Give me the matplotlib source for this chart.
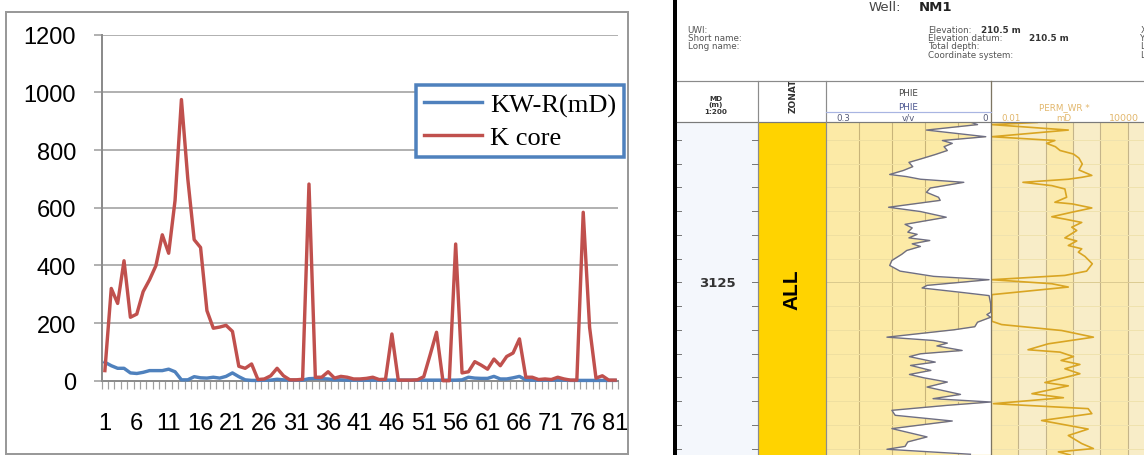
import matplotlib
matplotlib.use('Agg')
import matplotlib.pyplot as plt
import numpy as np
from matplotlib.patches import Rectangle

# ---------------- data: left chart ----------------
categories = list(range(1, 82))
x_tick_labels = [str(v) for v in range(1, 82, 5)]
kw_r = [64, 52, 43, 43, 27, 25, 29, 35, 35, 35, 40, 31, 3, 3, 14, 10, 9, 12, 9, 15,
        27, 14, 3, 1, 1, 2, 2, 5, 3, 2, 2, 2, 7, 8, 7, 6, 3, 3, 2, 2,
        2, 2, 2, 2, 2, 2, 2, 2, 2, 2, 2, 2, 2, 2, 2, 2, 3, 12, 9, 8,
        8, 15, 6, 6, 10, 15, 3, 2, 2, 2, 2, 2, 2, 1, 1, 1, 1, 1, 1, 1, 1]
k_core = [35, 320, 268, 416, 220, 231, 309, 350, 399, 506, 442, 625, 975, 700, 489, 462, 243, 182, 186, 192,
          171, 50, 43, 58, 4, 6, 17, 43, 17, 3, 3, 5, 682, 12, 12, 31, 9, 15, 12, 6,
          6, 8, 12, 4, 5, 162, 2, 2, 2, 3, 14, 90, 168, 0, 0, 474, 27, 31, 66, 54,
          40, 75, 52, 84, 96, 145, 12, 12, 4, 6, 4, 12, 6, 2, 2, 584, 185, 9, 17, 2, 2]
y_ticks = [0, 200, 400, 600, 800, 1000, 1200]
series_names = ['KW-R(mD)', 'K core']

# ---------------- data: well log ----------------
phie_depth = [3118.27, 3118.36, 3118.59, 3118.87, 3119.03, 3119.15, 3119.29, 3119.45, 3119.62, 3119.81,
              3119.95, 3120.13, 3120.29, 3120.46, 3120.55, 3120.66, 3120.79, 3121.03, 3121.21, 3121.42,
              3121.55, 3121.84, 3122.02, 3122.26, 3122.56, 3122.71, 3122.89, 3122.98, 3123.13, 3123.24,
              3123.38, 3123.49, 3123.66, 3123.82, 3124.08, 3124.29, 3124.53, 3124.75, 3124.89, 3125.13,
              3125.24, 3125.42, 3125.56, 3125.91, 3126.26, 3126.36, 3126.47, 3126.68, 3126.87, 3127.00,
              3127.31, 3127.45, 3127.56, 3127.68, 3127.87, 3128.01, 3128.13, 3128.36, 3128.50, 3128.71,
              3128.88, 3129.02, 3129.20, 3129.41, 3129.72, 3129.90, 3130.04, 3130.18, 3130.39, 3130.60,
              3130.84, 3131.16, 3131.51, 3131.72, 3131.91, 3132.03, 3132.14, 3132.24]
phie_vals = [0.035, 0.024, 0.117, 0.009, 0.088, 0.070, 0.085, 0.079, 0.101, 0.128,
             0.149, 0.142, 0.159, 0.184, 0.153, 0.128, 0.049, 0.110, 0.117, 0.095,
             0.092, 0.186, 0.128, 0.081, 0.156, 0.143, 0.151, 0.134, 0.149, 0.111,
             0.143, 0.128, 0.153, 0.162, 0.180, 0.184, 0.165, 0.104, 0.003, 0.116,
             0.125, 0.055, 0.003, 0.0, 0.0, 0.007, 0.0, 0.024, 0.029, 0.067,
             0.189, 0.104, 0.079, 0.098, 0.052, 0.128, 0.148, 0.101, 0.146, 0.109,
             0.148, 0.122, 0.079, 0.116, 0.055, 0.105, 0.0, 0.079, 0.180, 0.174,
             0.070, 0.180, 0.116, 0.151, 0.156, 0.189, 0.110, 0.037]
perm_depth = [3118.27, 3118.36, 3118.59, 3118.87, 3119.03, 3119.15, 3119.29, 3119.45, 3119.60, 3119.77,
              3120.02, 3120.27, 3120.50, 3120.58, 3120.66, 3120.79, 3120.93, 3121.07, 3121.42, 3121.63,
              3121.70, 3121.87, 3122.05, 3122.24, 3122.34, 3122.48, 3122.68, 3122.82, 3123.13, 3123.26,
              3123.45, 3123.59, 3123.73, 3123.91, 3124.22, 3124.53, 3124.71, 3124.89, 3125.06, 3125.20,
              3125.52, 3126.64, 3126.78, 3127.03, 3127.31, 3127.59, 3127.84, 3127.94, 3128.13, 3128.29,
              3128.46, 3128.64, 3128.85, 3129.22, 3129.36, 3129.69, 3129.86, 3130.11, 3130.32, 3130.53,
              3130.82, 3131.18, 3131.45, 3131.79, 3132.00, 3132.14, 3132.27]
perm_md = [0.5, 0.011, 6.8, 0.011, 2.2, 1.1, 2.3, 3.4, 10.5, 16.6,
           22, 16.6, 49, 21, 6.8, 0.15, 1.7, 5.1, 5.9, 2.2,
           9.5, 49, 9.1, 1.7, 5.1, 21, 9.1, 13.8, 5.1, 13.8,
           6.8, 21, 15.8, 27.5, 51, 31.6, 5.1, 0.011, 1.7, 6.8,
           0.011, 0.011, 0.025, 3.9, 56, 1.26, 0.23, 3.4, 10.5, 3.7,
           18, 5.1, 18, 0.95, 6.8, 0.32, 4.5, 0.0126, 36, 49,
           0.72, 36, 6.8, 21, 56, 2.95, 7.9]
md_ticks = list(range(3119, 3133))
md_label = 3125
zone_name = 'ALL'

# ---------------- figure ----------------
W, H = 1144, 456
fig = plt.figure(figsize=(W / 100, H / 100), dpi=100)
PX = 0.72  # points per pixel


def axpx(x0, y0, x1, y1, **kw):
    return fig.add_axes([x0 / W, 1 - y1 / H, (x1 - x0) / W, (y1 - y0) / H], **kw)


bg = axpx(0, 0, W, H, zorder=0)
bg.set_xlim(0, W); bg.set_ylim(H, 0); bg.axis('off')

# chart border
bg.add_patch(Rectangle((6, 13), 622, 442, fill=False, edgecolor='#999999', lw=2 * PX))

# ---------------- left chart ----------------
ax = axpx(101.7, 35.7, 618.3, 381.7, zorder=2)
ax.set_facecolor('none')
ax.set_xlim(0.5, 81.5)
ax.set_ylim(0, 1200)
ax.set_yticks(y_ticks)
ax.yaxis.grid(True, color='#A0A0A0', lw=1.6 * PX)
ax.set_axisbelow(True)
l1, = ax.plot(categories, kw_r, color='#4F81BD', lw=3.4 * PX, clip_on=False, zorder=3)
l2, = ax.plot(categories, k_core, color='#C0504D', lw=3.4 * PX, clip_on=False, zorder=4)
for s in ['top', 'right']:
    ax.spines[s].set_visible(False)
for s in ['left', 'bottom']:
    ax.spines[s].set_color('#8C8C8C')
    ax.spines[s].set_linewidth(2 * PX)
ax.tick_params(axis='y', length=8.5 * PX, width=1.6 * PX, color='#A0A0A0', pad=17 * PX,
               labelsize=17)
ax.set_xticks(list(range(1, 82, 5)))
ax.set_xticklabels(x_tick_labels)
ax.set_xticks(np.arange(0.5, 82, 1), minor=True)
ax.tick_params(axis='x', which='major', length=0, pad=31 * PX, labelsize=17)
ax.tick_params(axis='x', which='minor', length=8 * PX, width=1.2 * PX, color='#A0A0A0')
for t in ax.get_xticklabels() + ax.get_yticklabels():
    t.set_fontfamily('Liberation Sans')

leg = fig.legend([l1, l2], series_names, loc='upper left',
                 bbox_to_anchor=(416 / W, 1 - 86 / H), bbox_transform=fig.transFigure,
                 prop={'family': 'Liberation Serif', 'size': 19}, frameon=True, fancybox=False,
                 framealpha=1, borderaxespad=0, borderpad=0.3, labelspacing=0.33,
                 handlelength=2.2, handletextpad=0.3)
leg.get_frame().set_edgecolor('#4F81BD')
leg.get_frame().set_linewidth(3.5 * PX)
for ln in leg.get_lines():
    ln.set_linewidth(3.4 * PX)

# ---------------- right panel: well log ----------------
TOP, BOT = 123.3, 456
PXM = 23.75
d_top = md_label - (283.3 - TOP) / PXM
d_bot = md_label + (BOT - 283.3) / PXM

bg.add_patch(Rectangle((677, TOP), 81, BOT - TOP, color='#F4F7FC', lw=0))
bg.add_patch(Rectangle((758, TOP), 68, BOT - TOP, color='#FFD300', lw=0))

# PHIE track
ap = axpx(826, TOP, 990.7, BOT, zorder=1)
ap.set_facecolor('#FCEAA6')
ap.set_xlim(0.3, 0)
ap.set_ylim(d_bot, d_top)
ap.set_xticks([]); ap.set_yticks([])
for s in ap.spines.values():
    s.set_visible(False)
for v in [0.06, 0.12, 0.18, 0.24]:
    ap.axvline(v, color='#C8B47A', lw=0.8, zorder=1)
for d in md_ticks:
    ap.axhline(d, color='#EFDFA0' if d != md_label else '#D9C98E', lw=0.7, zorder=1)
ap.fill_betweenx(phie_depth, phie_vals, 0, color='white', lw=0, zorder=2)
ap.plot(phie_vals, phie_depth, color='#6E6E82', lw=1.0, zorder=3)

# PERM track
ak = axpx(990.7, TOP, 1155.1, BOT, zorder=1)
ak.set_facecolor('#FBEAAE')
ak.set_xscale('log')
ak.set_xlim(0.01, 10000)
ak.set_ylim(d_bot, d_top)
ak.set_xticks([]); ak.set_yticks([])
ak.minorticks_off()
for s in ak.spines.values():
    s.set_visible(False)
for lo, hi in [(0.1, 1), (10, 100), (1000, 10000)]:
    ak.axvspan(lo, hi, color='#F8EDC8', lw=0, zorder=0.5)
for v in [0.1, 1, 10, 100, 1000]:
    ak.axvline(v, color='#C4B48A', lw=0.8, zorder=1)
for d in md_ticks:
    ak.axhline(d, color='#EFE2AE' if d != md_label else '#DCCB92', lw=0.7, zorder=1)
ak.plot(perm_md, perm_depth, color='#D9A522', lw=1.2, zorder=3)

# overlay
ov = axpx(0, 0, W, H, zorder=5)
ov.set_xlim(0, W); ov.set_ylim(H, 0); ov.axis('off')
ov.plot([675, 675], [0, H], color='black', lw=4 * PX, solid_capstyle='butt')
ov.plot([677, W], [82, 82], color='#8A8A8A', lw=1.2 * PX)
ov.plot([677, W], [TOP, TOP], color='#7A7A7A', lw=1.2 * PX)
for xv in [758, 826]:
    ov.plot([xv, xv], [82, H], color='#8C8C8C', lw=1.2 * PX)
ov.plot([990.7, 990.7], [82, H], color='#7D7562', lw=1.3 * PX)
ov.plot([826, 990.7], [112.5, 112.5], color='#A9B5E2', lw=1.2 * PX)
for d in md_ticks:
    yy = 283.3 + (d - md_label) * PXM
    ov.plot([677, 681], [yy, yy], color='#7A7A7A', lw=1 * PX)
    ov.plot([752, 758], [yy, yy], color='#7A7A7A', lw=1 * PX)

ff = 'DejaVu Sans'
ov.text(717, 283.5, str(md_label), ha='center', va='center', fontsize=9.5, fontweight='bold',
        color='#333333', family=ff)
ov.text(792, 290, zone_name, ha='center', va='center', rotation=90, fontsize=15,
        fontweight='bold', color='black', family='Liberation Sans')

# header
ov.text(869, 7.5, 'Well:', ha='left', va='center', fontsize=9.5, color='#444444', family=ff)
ov.text(919, 7.5, 'NM1', ha='left', va='center', fontsize=9.5, fontweight='bold',
        color='#222222', family=ff)
hy = [30.7, 38.8, 46.9, 55.0]
hc = '#555555'
hs = 6.3
for t, yv in zip(['UWI:', 'Short name:', 'Long name:'], hy):
    ov.text(687.7, yv, t, ha='left', va='center', fontsize=hs, color=hc, family=ff)
for t, yv in zip(['Elevation:', 'Elevation datum:', 'Total depth:', 'Coordinate system:'], hy):
    ov.text(927.7, yv, t, ha='left', va='center', fontsize=hs, color=hc, family=ff)
ov.text(981, hy[0], '210.5 m', ha='left', va='center', fontsize=hs, fontweight='bold',
        color='#333333', family=ff)
ov.text(1028.7, hy[1], '210.5 m', ha='left', va='center', fontsize=hs, fontweight='bold',
        color='#333333', family=ff)
for t, yv in zip(['X:', 'Y:', 'Latitude:', 'Longitude:'], hy):
    ov.text(1140.5, yv, t, ha='left', va='center', fontsize=hs, color=hc, family=ff)

# column headers
cs = 5.2
for t, yv in zip(['MD', '(m)', '1:200'], [98.6, 104.6, 111.6]):
    ov.text(716, yv, t, ha='center', va='center', fontsize=cs, fontweight='bold',
            color='#333333', family=ff)
clip = Rectangle((758, 82.8), 68, 40, transform=ov.transData, fill=False)
zt = ov.text(793, 113.5, 'ZONATION', ha='center', va='bottom', rotation=90, fontsize=6.5,
             fontweight='bold', color='#333333', family=ff, clip_on=True)
zt.set_clip_path(clip)
ov.text(908, 93.3, 'PHIE', ha='center', va='center', fontsize=6.3, color='#444444', family=ff)
ov.text(908, 107.3, 'PHIE', ha='center', va='center', fontsize=6.3, color='#4A5590', family=ff)
sc = '#555A78'
ov.text(836.7, 118.2, '0.3', ha='left', va='center', fontsize=6.3, color=sc, family=ff)
ov.text(908, 118.2, 'v/v', ha='center', va='center', fontsize=6.3, color=sc, family=ff)
ov.text(988, 118.2, '0', ha='right', va='center', fontsize=6.3, color=sc, family=ff)
pc = '#E2B76C'
ov.text(1064, 107.3, 'PERM_WR *', ha='center', va='center', fontsize=6.3, color=pc, family=ff)
ov.text(1001.7, 118.2, '0.01', ha='left', va='center', fontsize=6.3, color=pc, family=ff)
ov.text(1064, 118.2, 'mD', ha='center', va='center', fontsize=6.3, color=pc, family=ff)
ov.text(1109, 118.2, '10000', ha='left', va='center', fontsize=6.8, color=pc, family=ff)

fig.savefig('out.png', dpi=100)
